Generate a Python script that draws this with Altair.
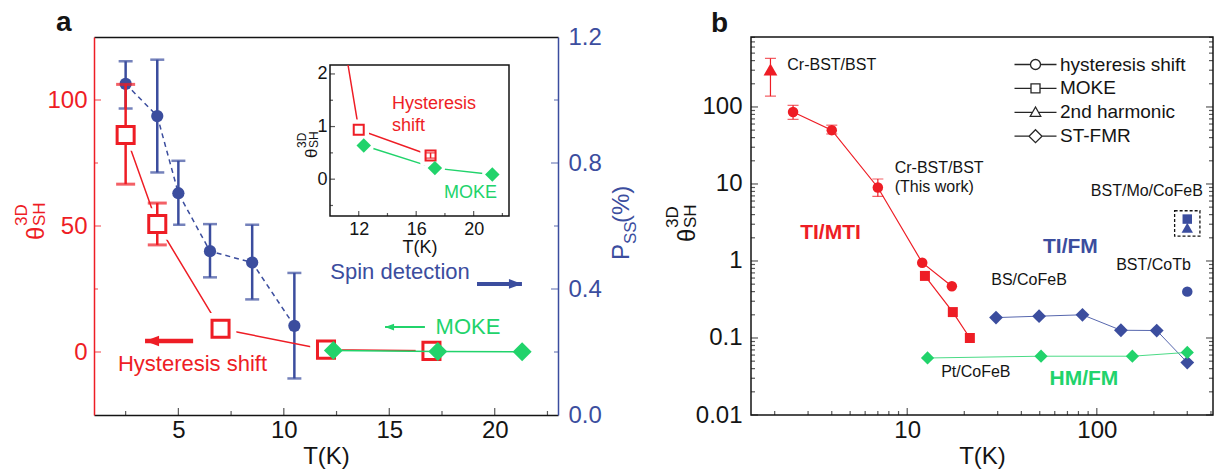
import altair as alt
import pandas as pd

FONT = "Liberation Sans"
RED = "#EE1D25"
BLUE = "#3B4D9E"
GREEN = "#21D36B"
INK = "#141414"
DARK = "#262626"

# ---------------- panel a ----------------
# spin Hall angle from hysteresis shift (left axis)
hys_T = [2.5, 4, 7, 12, 17]
hys_theta = [86.1, 50.8, 9.2, 0.94, 0.45]
hys_err_T = [2.5, 4]
hys_err_lo = [66.6, 42.5]
hys_err_hi = [106.2, 59.1]
# spin Hall angle from MOKE (left axis)
moke_T = [12.35, 17.3, 21.3]
moke_theta = [0.64, 0.21, 0.09]
# spin detection polarization P_SS in % (right axis)
spin_T = [2.5, 4, 5, 6.5, 8.5, 10.5]
spin_P = [1.051, 0.949, 0.704, 0.520, 0.484, 0.283]
spin_lo = [0.973, 0.770, 0.604, 0.437, 0.367, 0.116]
spin_hi = [1.123, 1.128, 0.807, 0.606, 0.604, 0.451]

# axis ranges and tick marks of panel a
A_T_RANGE = [1, 23]
A_THETA_RANGE = [-25, 125]
A_P_RANGE = [0, 1.2]
A_T_MAJOR, A_T_MINOR = [5, 10, 15, 20], [2.5, 7.5, 12.5, 17.5, 22.5]
A_THETA_MAJOR, A_THETA_MINOR = [0, 50, 100], [25, 75]
A_P_LABELS = [0, 0.4, 0.8, 1.2]
A_P_MAJOR, A_P_MINOR = [0.4, 0.8], [0.2, 0.6, 1.0]

# inset of panel a
INSET_T = [10, 22.46]
INSET_THETA = [-0.7, 2.17]
INSET_T_MAJOR, INSET_T_MINOR = [12, 16, 20], [14, 18, 22]
INSET_THETA_MAJOR, INSET_THETA_MINOR = [0, 1, 2], [-0.5, 0.5, 1.5]
inset_err_T, inset_err_lo, inset_err_hi = [17], [0.40], [0.50]

# ---------------- panel b ----------------
b_hys_T = [2.5, 4, 7, 12, 17.2]
b_hys_theta = [86, 50, 9.0, 0.95, 0.47]
b_err_T = [2.5, 4, 7, 1.9]
b_err_lo = [69, 44.6, 6.9, 138]
b_err_hi = [105, 58, 11.6, 427]
b_moke_T = [12.4, 17.4, 21.4]
b_moke_theta = [0.64, 0.217, 0.1]
b_harm_T, b_harm_theta = [1.9], [306]
tifm_T = [29.4, 49.6, 84, 134, 207, 300]
tifm_theta = [0.184, 0.192, 0.2, 0.126, 0.125, 0.048]
hmfm_T = [12.8, 50.8, 154, 300]
hmfm_theta = [0.055, 0.058, 0.058, 0.065]
cotb_T, cotb_theta = [300], [0.40]
mo_T, mo_moke, mo_harm = [300], [3.5], [2.7]

B_T_RANGE = [1.5, 410]
B_THETA_RANGE = [0.01, 810]
B_T_MAJOR = [10, 100]
B_T_MINOR = [k * 10 ** e for e in (0, 1, 2) for k in range(2, 10)
             if B_T_RANGE[0] <= k * 10 ** e <= B_T_RANGE[1]]
B_THETA_MAJOR = [0.01, 0.1, 1, 10, 100]
B_THETA_MINOR = [k * 10.0 ** e for e in (-2, -1, 0, 1, 2) for k in range(2, 10)
                 if k * 10.0 ** e <= B_THETA_RANGE[1]]

legend_methods = ["hysteresis shift", "MOKE", "2nd harmonic", "ST-FMR"]

W_A, W_B, H = 464, 462, 378
GAP = 193
ONE = alt.Data(values=[{"k": 0}])


class Frame:
    """x/y scales plus the axes that every layer sharing them repeats."""

    def __init__(self, xs, ys, xaxis, yaxis):
        self.xs, self.ys, self.xaxis, self.yaxis = xs, ys, xaxis, yaxis

    def X(self, f="T"):
        return alt.X(f"{f}:Q", scale=self.xs, axis=self.xaxis)

    def Y(self, f="v"):
        return alt.Y(f"{f}:Q", scale=self.ys, axis=self.yaxis)

    def xy(self, xf="T", yf="v"):
        return dict(x=self.X(xf), y=self.Y(yf))


def table(T, v, **extra):
    d = {"T": T, "v": v}
    d.update(extra)
    return pd.DataFrame(d)


def line(df, fr, color, width, dash=None):
    kw = dict(color=color, strokeWidth=width)
    if dash:
        kw["strokeDash"] = dash
    return alt.Chart(df).mark_line(**kw).encode(**fr.xy())


def points(df, fr, shape, size, fill, stroke=None, sw=0.0):
    kw = dict(shape=shape, size=size, filled=True, fill=fill, opacity=1, strokeWidth=sw)
    if stroke:
        kw["stroke"] = stroke
    return alt.Chart(df).mark_point(**kw).encode(**fr.xy())


def errbars(df, fr, color, stem, cap, capw):
    base = alt.Chart(df)
    stems = base.mark_rule(color=color, strokeWidth=stem).encode(
        x=fr.X(), y=fr.Y("lo"), y2="hi:Q")
    caps = base.transform_fold(["lo", "hi"], as_=["end", "e"]).mark_tick(
        orient="horizontal", color=color, size=capw, thickness=cap).encode(x=fr.X(), y=fr.Y("e"))
    return [stems, caps]


def labels(df, fr, size, color, weight="normal", align="center"):
    return alt.Chart(df).mark_text(font=FONT, fontSize=size, color=color, fontWeight=weight,
                                   align=align, baseline="middle", lineBreak="\n",
                                   lineHeight=19).encode(text="s:N", **fr.xy())


HEAD_LEFT = "M0,0L2,-0.75L2,0.75Z"
HEAD_RIGHT = "M0,0L-2,-0.75L-2,0.75Z"


def arrow(tip, tail, level, fr, color, width, head_size):
    d = pd.DataFrame({"T": [tip], "T2": [tail], "v": [level]})
    shaft = alt.Chart(d).mark_rule(color=color, strokeWidth=width).encode(
        x=fr.X(), x2="T2:Q", y=fr.Y())
    head = alt.Chart(d).mark_point(shape=HEAD_LEFT if tail > tip else HEAD_RIGHT, filled=True,
                                   color=color, size=head_size, opacity=1,
                                   strokeWidth=0).encode(**fr.xy())
    return [shaft, head]


def ticks_x(vals, fr, length, y_px, color):
    return alt.Chart(pd.DataFrame({"t": vals})).mark_tick(
        orient="vertical", size=length, thickness=1.2, color=color).encode(
        x=fr.X("t"), y=alt.value(y_px))


def ticks_y(vals, fr, length, x_px, color):
    return alt.Chart(pd.DataFrame({"t": vals})).mark_tick(
        orient="horizontal", size=length, thickness=1.2, color=color).encode(
        y=fr.Y("t"), x=alt.value(x_px))


def rot(txt, x, y, size, color):
    return alt.Chart(ONE).mark_text(text=txt, angle=270, align="left", baseline="alphabetic",
                                    font=FONT, fontSize=size, color=color).encode(
        x=alt.value(x), y=alt.value(y))


def theta_title(x, y, color):
    # θ with superscript 3D and subscript SH, reading bottom to top
    return [rot("θ", x, y, 24, color), rot("SH", x + 1, y - 14, 17, color),
            rot("3D", x - 17, y - 14, 17, color)]


# ====================== panel a ======================
xa = alt.Scale(domain=A_T_RANGE, nice=False, zero=False)
ya = alt.Scale(domain=A_THETA_RANGE, nice=False, zero=False)
pa = alt.Scale(domain=A_P_RANGE, nice=False, zero=False)

ax_bottom = alt.Axis(orient="bottom", values=A_T_MAJOR, format="d", ticks=False, domainColor=INK,
                     domainWidth=1.5, labelFontSize=24, labelColor=INK, labelPadding=3,
                     title="T(K)", titleFontSize=24, titleFontWeight="normal", titleColor=INK,
                     titlePadding=2)
ax_left = alt.Axis(orient="left", values=A_THETA_MAJOR, format="d", ticks=False, domainColor=RED,
                   domainWidth=1.5, labelFontSize=24, labelColor=RED, labelPadding=7, title=None)
ax_right = alt.Axis(orient="right", values=A_P_LABELS, format=".1f", ticks=False,
                    domainColor=BLUE, domainWidth=1.5, labelFontSize=24, labelColor=BLUE,
                    labelPadding=10, title=None)
ax_top = alt.Axis(orient="top", labels=False, ticks=False, domainColor=INK, domainWidth=1.5,
                  title=None)

FL = Frame(xa, ya, ax_bottom, ax_left)
FR = Frame(xa, pa, ax_top, ax_right)

hys_df = table(hys_T, hys_theta)
hys_err_df = table(hys_err_T, [0] * len(hys_err_T), lo=hys_err_lo, hi=hys_err_hi)
moke_df = table(moke_T, moke_theta)
spin_df = table(spin_T, spin_P, lo=spin_lo, hi=spin_hi)

ann_left = pd.DataFrame({"s": ["Hysteresis shift", "MOKE"], "T": [5.67, 18.73], "v": [-4.6, 9.9]})
ann_right = pd.DataFrame({"s": ["Spin detection"], "T": [15.51], "v": [0.454]})

group_right = alt.layer(
    line(spin_df, FR, BLUE, 1.5, dash=[5, 4]),
    *errbars(spin_df, FR, BLUE, 2.5, 2.5, 14),
    points(spin_df, FR, "circle", 150, BLUE),
    ticks_y(A_P_MAJOR, FR, 7, W_A - 3.5, BLUE),
    ticks_y(A_P_MINOR, FR, 4, W_A - 2, BLUE),
    labels(ann_right, FR, 22, BLUE),
    *arrow(21.29, 19.16, 0.416, FR, BLUE, 4, 169),
    rot("P", 535, 223, 24, BLUE), rot("SS", 542, 207, 17, BLUE), rot("(%)", 535, 186, 24, BLUE),
)

group_left = alt.layer(
    line(hys_df, FL, RED, 1.5),
    points(hys_df, FL, "square", 1000, "white"),
    *errbars(hys_err_df, FL, RED, 2.5, 3, 19),
    points(hys_df, FL, "square", 290, "white", stroke=RED, sw=3),
    line(moke_df, FL, GREEN, 1.5),
    points(moke_df, FL, "diamond", 360, GREEN),
    ticks_x(A_T_MAJOR, FL, 7, H - 3.5, INK),
    ticks_x(A_T_MINOR, FL, 4, H - 2, INK),
    ticks_y(A_THETA_MAJOR, FL, 7, 3.5, RED),
    ticks_y(A_THETA_MINOR, FL, 4, 2, RED),
    labels(ann_left.iloc[[0]], FL, 22, RED),
    labels(ann_left.iloc[[1]], FL, 22, GREEN),
    *arrow(3.42, 5.70, 4.4, FL, RED, 4.5, 196),
    *arrow(14.8, 16.69, 9.9, FL, GREEN, 2, 81),
    *theta_title(-50, 203, RED),
)

# inset: the low-temperature end on a linear scale
inset_x_px = [236, 415]
inset_y_px = [179, 28]
xi = alt.Scale(domain=INSET_T, range=inset_x_px, nice=False, zero=False)
yi = alt.Scale(domain=INSET_THETA, range=inset_y_px, nice=False, zero=False)
ax_ix = alt.Axis(orient="bottom", offset=inset_y_px[0] - H, values=INSET_T_MAJOR, ticks=False,
                 domain=False, labelFontSize=18, labelColor=INK, labelPadding=4, title="T(K)",
                 titleFontSize=18, titleFontWeight="normal", titleColor=INK, titlePadding=0)
ax_iy = alt.Axis(orient="left", offset=-inset_x_px[0], values=INSET_THETA_MAJOR, ticks=False,
                 domain=False, labelFontSize=18, labelColor=INK, labelPadding=3, title=None)
FI = Frame(xi, yi, ax_ix, ax_iy)

# the 7 K -> 12 K segment enters through the top edge of the inset frame
t_cut = (INSET_THETA[1] - hys_theta[3]) / (hys_theta[2] - hys_theta[3])
T_cut = hys_T[3] + t_cut * (hys_T[2] - hys_T[3])
inset_hys = table([T_cut] + hys_T[3:], [INSET_THETA[1]] + hys_theta[3:])
inset_hys_pts = table(hys_T[3:], hys_theta[3:])
inset_err = table(inset_err_T, [0], lo=inset_err_lo, hi=inset_err_hi)
inset_box = pd.DataFrame({"T": [INSET_T[0]], "T2": [INSET_T[1]],
                          "v": [INSET_THETA[0]], "v2": [INSET_THETA[1]]})
inset_ann = pd.DataFrame({"s": ["Hysteresis", "shift", "MOKE"], "T": [14.31, 14.31, 17.93],
                          "v": [1.43, 1.01, -0.26]})

group_inset = alt.layer(
    alt.Chart(inset_box).mark_rect(fill="white", stroke=INK, strokeWidth=1.5).encode(
        x=FI.X(), x2="T2:Q", y=FI.Y(), y2="v2:Q"),
    line(inset_hys, FI, RED, 1.5),
    line(moke_df, FI, GREEN, 1.5),
    points(inset_hys_pts, FI, "square", 420, "white"),
    points(moke_df, FI, "circle", 420, "white"),
    points(inset_hys_pts, FI, "square", 100, "white", stroke=RED, sw=2),
    *errbars(inset_err, FI, RED, 1.5, 1.5, 11),
    points(moke_df, FI, "diamond", 210, GREEN),
    ticks_x(INSET_T_MAJOR, FI, 5, inset_y_px[0] - 2.5, INK),
    ticks_x(INSET_T_MINOR, FI, 3, inset_y_px[0] - 1.5, INK),
    ticks_y(INSET_THETA_MAJOR, FI, 5, inset_x_px[0] + 2.5, INK),
    ticks_y(INSET_THETA_MINOR, FI, 3, inset_x_px[0] + 1.5, INK),
    labels(inset_ann.iloc[:2], FI, 18, RED, align="left"),
    labels(inset_ann.iloc[[2]], FI, 18, GREEN, align="left"),
    rot("θ", 223, 121, 17, INK), rot("SH", 224, 111, 12, INK), rot("3D", 212, 111, 12, INK),
)

panel_a = alt.layer(group_right, group_left, group_inset).resolve_scale(
    x="independent", y="independent").properties(
    width=W_A, height=H,
    title=alt.TitleParams("a", anchor="start", frame="group", dx=-38, dy=18, offset=6,
                          fontSize=28, fontWeight="bold", font=FONT, color=INK))

# ====================== panel b ======================
xb = alt.Scale(type="log", domain=B_T_RANGE, nice=False)
yb = alt.Scale(type="log", domain=B_THETA_RANGE, nice=False)
ax_bx = alt.Axis(orient="bottom", values=B_T_MAJOR, format="d", ticks=False, domain=False,
                 labelFontSize=24, labelColor=INK, labelPadding=3, title="T(K)", titleFontSize=24,
                 titleFontWeight="normal", titleColor=INK, titlePadding=2)
ax_by = alt.Axis(orient="left", values=B_THETA_MAJOR, format="~g", ticks=False, domain=False,
                 labelFontSize=24, labelColor=INK, labelPadding=9, title=None)
FB = Frame(xb, yb, ax_bx, ax_by)

b_hys = table(b_hys_T, b_hys_theta)
b_err = table(b_err_T, [1] * len(b_err_T), lo=b_err_lo, hi=b_err_hi)
b_moke = table(b_moke_T, b_moke_theta)
b_harm = table(b_harm_T, b_harm_theta)
tifm = table(tifm_T, tifm_theta)
hmfm = table(hmfm_T, hmfm_theta)
cotb = table(cotb_T, cotb_theta)
mo_sq = table(mo_T, mo_moke)
mo_tri = table(mo_T, mo_harm)
mo_box = table(mo_T, [(a * b) ** 0.5 for a, b in zip(mo_moke, mo_harm)])

b_ann = pd.DataFrame({
    "s": ["BS/CoFeB", "BST/CoTb", "BST/Mo/CoFeB", "Pt/CoFeB"],
    "T": [43.9, 199, 183.6, 23], "v": [0.558, 0.887, 8.0, 0.0362]})
b_ann_left = pd.DataFrame({"s": ["Cr-BST/BST", "Cr-BST/BST\n(This work)"],
                           "T": [2.33, 8.59], "v": [349, 16.3]})
b_groups = pd.DataFrame({"s": ["TI/MTI", "TI/FM", "HM/FM"], "T": [3.94, 72.6, 85.5],
                         "v": [2.31, 1.51, 0.0292]})

# legend glyphs: open symbol on a short line segment
LEG_SHAPES = [
    "M-4.2,0H-1M1,0H4.2M1,0A1,1,0,1,1,-1,0A1,1,0,1,1,1,0Z",
    "M-4.2,0H-0.9M0.9,0H4.2M-0.9,-0.9H0.9V0.9H-0.9Z",
    "M-4.2,0H-0.65M0.65,0H4.2M0,-1.05L1.05,0.8H-1.05Z",
    "M-4.2,0H-1.3M1.3,0H4.2M0,-1.3L1.3,0L0,1.3L-1.3,0Z",
]
leg_df = pd.DataFrame({"method": legend_methods, "T": [1.0] * 4, "v": [1.0] * 4})
legend_layer = alt.Chart(leg_df).mark_point(filled=False, color=DARK, clip=True, opacity=1,
                                            strokeWidth=1.3).encode(
    shape=alt.Shape("method:N", scale=alt.Scale(domain=legend_methods, range=LEG_SHAPES),
                    legend=alt.Legend(title=None, orient="none", legendX=W_A + GAP + 275,
                                      legendY=18, symbolSize=100, symbolStrokeWidth=1.3,
                                      symbolStrokeColor=DARK, labelFontSize=19, labelFont=FONT,
                                      labelColor=INK, labelOffset=15, rowPadding=3.9, padding=0)),
    **FB.xy())

panel_b = alt.layer(
    line(b_hys, FB, RED, 1.2),
    line(b_moke, FB, RED, 1.2),
    line(tifm, FB, "#5767AE", 1),
    line(hmfm, FB, "#4BDB86", 1),
    *errbars(b_err, FB, RED, 1.2, 1.2, 11),
    points(b_hys, FB, "circle", 110, RED),
    points(b_moke, FB, "square", 100, RED),
    points(b_harm, FB, "triangle-up", 190, RED),
    points(tifm, FB, "diamond", 190, BLUE),
    points(hmfm, FB, "diamond", 175, GREEN),
    points(cotb, FB, "circle", 110, BLUE),
    points(mo_sq, FB, "square", 90, BLUE),
    points(mo_tri, FB, "triangle-up", 130, BLUE),
    alt.Chart(mo_box).mark_point(shape="square", filled=False, size=640, color=INK, opacity=1,
                                 strokeWidth=1.3, strokeDash=[3, 2]).encode(**FB.xy()),
    labels(b_ann, FB, 16, INK),
    labels(b_ann_left, FB, 16, INK, align="left"),
    labels(b_groups.iloc[[0]], FB, 21, RED, weight="bold"),
    labels(b_groups.iloc[[1]], FB, 21, BLUE, weight="bold"),
    labels(b_groups.iloc[[2]], FB, 21, GREEN, weight="bold"),
    legend_layer,
    ticks_x(B_T_MAJOR, FB, 7, H - 3.5, INK),
    ticks_x(B_T_MINOR, FB, 4, H - 2, INK),
    ticks_y(B_THETA_MAJOR, FB, 7, 3.5, INK),
    ticks_y(B_THETA_MINOR, FB, 4, 2, INK),
    ticks_y(B_THETA_MAJOR, FB, 7, W_B - 3.5, INK),
    ticks_y(B_THETA_MINOR, FB, 4, W_B - 2, INK),
    *theta_title(-56, 205, INK),
).properties(
    width=W_B, height=H, view=alt.ViewBackground(stroke=INK, strokeWidth=1.5),
    title=alt.TitleParams("b", anchor="start", frame="group", dx=-40, dy=7, offset=6,
                          fontSize=28, fontWeight="bold", font=FONT, color=INK))

chart = alt.hconcat(panel_a, panel_b, spacing=GAP, bounds="flush").properties(
    padding={"left": 13, "top": 9, "right": 2, "bottom": 5}
).configure(font=FONT).configure_view(stroke=None).configure_axis(grid=False, labelFont=FONT,
                                                                    titleFont=FONT)

chart.save("out.html", embed_options={"renderer": "svg", "actions": False})
